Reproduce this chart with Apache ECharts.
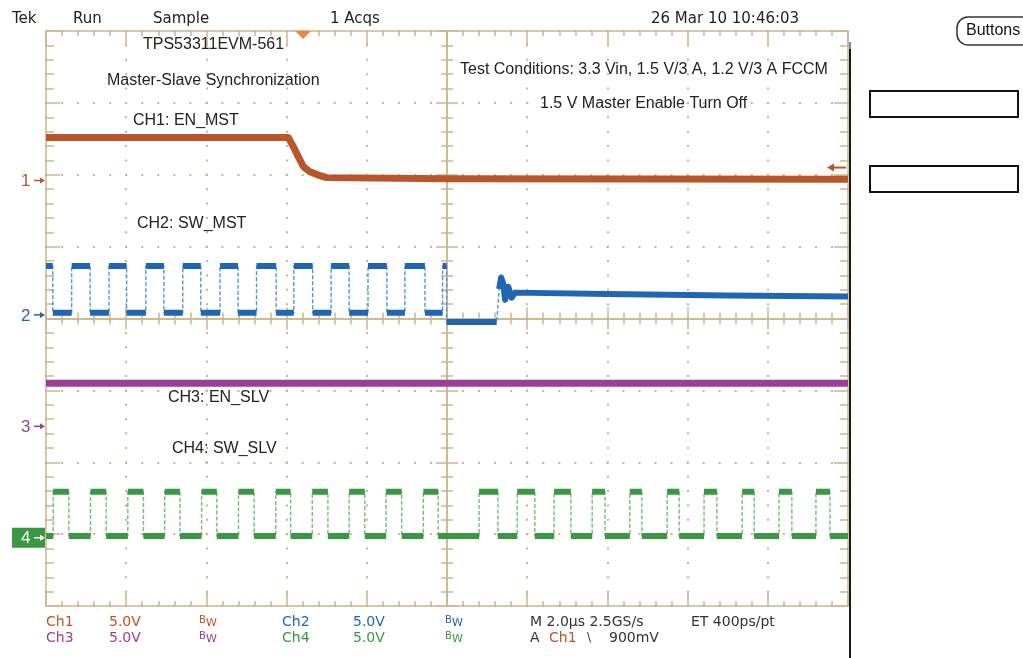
<!DOCTYPE html>
<html><head><meta charset="utf-8">
<script src="https://cdn.jsdelivr.net/npm/echarts@6/dist/echarts.min.js"></script>
<style>html,body{margin:0;padding:0;background:#fff}#c{width:1023px;height:658px}</style>
</head><body><div id="c"></div>
<script>
// ---- values: time in µs from screen centre, volts ----
const voltsPerDiv = [5.0, 5.0, 5.0, 5.0];
const channelOffsetDiv = [1.92, 0.05, -1.50, -3.05];
const ch1Points = [[-10,3.0],[-3.96,3.0],[-3.83,2.35],[-3.71,1.66],[-3.58,0.96],[-3.42,0.61],[-3.21,0.38],[-3.00,0.20],[0,0.12],[10,0.08]];
const ch2Edges = [-9.83,-9.36,-8.90,-8.43,-7.99,-7.51,-7.06,-6.59,-6.14,-5.66,-5.21,-4.75,-4.26,-3.82,-3.35,-2.89,-2.44,-1.97,-1.50,-1.05,-0.55,-0.11];
const ch2High = 3.4, ch2Low = 0.15;
const ch2Tail = [[-0.01,-0.5],[1.24,-0.5],[1.30,1.8],[1.35,2.6],[1.40,2.2],[1.45,1.05],[1.53,1.95],[1.61,1.2],[1.70,1.55],[4,1.45],[7,1.35],[10,1.28]];
const ch3Points = [[-10,3.0],[10,3.0]];
const ch4Edges = [-9.82,-9.43,-8.89,-8.50,-7.96,-7.57,-7.04,-6.66,-6.12,-5.74,-5.20,-4.81,-4.27,-3.90,-3.36,-2.97,-2.44,-2.05,-1.52,-1.13,-0.59,-0.22,0.80,1.27,1.75,2.19,2.67,3.09,3.62,3.94,4.56,4.86,5.49,5.79,6.41,6.73,7.36,7.66,8.28,8.60,9.20,9.55];
const ch4High = 3.2, ch4Low = 0.12;
const triggerTime = -3.59, triggerLevel = 0.9;
const xTicks = {min:-10, max:10, interval:2};
const yTicks = {min:-4, max:4, interval:1};

const COL = ['#B9542B','#2166B3','#9A3F95','#3A9743'];
const COL_THIN = ['#B9542B','#4F96D2','#9A3F95','#6DBE6D'];
const TAN = '#C9B68C';

function buildSteps(edges, startHigh, hi, lo, tStart, tEnd){
  const pts=[]; let s=startHigh;
  pts.push([tStart, s?hi:lo]);
  edges.forEach(t=>{ pts.push([t, s?hi:lo]); s=!s; pts.push([t, s?hi:lo]); });
  pts.push([tEnd, s?hi:lo]);
  return pts;
}
function flats(pts){
  const out=[];
  for(let i=0;i<pts.length-1;i++){
    if(pts[i][1]===pts[i+1][1] && pts[i+1][0]>pts[i][0]){ out.push(pts[i],pts[i+1],[pts[i+1][0],'-']); }
  }
  return out;
}
const toDiv = (pts,ch)=>pts.map(p=>[p[0], p[1]==='-'?'-':channelOffsetDiv[ch]+p[1]/voltsPerDiv[ch]]);

const ch2Points = buildSteps(ch2Edges,true,ch2High,ch2Low,-10,ch2Tail[0][0]).concat(ch2Tail);
const ch2Thick = flats(ch2Points).concat(ch2Tail.slice(2));
const ch4Points = buildSteps(ch4Edges,false,ch4High,ch4Low,-10,10);
const ch4Thick = flats(ch4Points);

const tick = (len,w)=>({show:true,length:len,lineStyle:{color:TAN,width:w||1.5}});
function frameAxis(dim,pos,major,minor,split){
  const t = dim==='x'?xTicks:yTicks;
  return {type:'value',min:t.min,max:t.max,interval:t.interval,position:pos,
    axisLine:{show:true,onZero:false,lineStyle:{color:TAN,width:1.5}},
    axisTick:Object.assign(tick(major),{inside:true}),
    minorTick:Object.assign(tick(minor),{splitNumber:5}),
    axisLabel:{show:false},
    splitLine: split?{show:true,lineStyle:{color:TAN,width:2,type:dim==='x'?[2,12.375]:[2,14.04],dashOffset:1}}:{show:false}
  };
}
function centerAxis(dim,inside){
  const t = dim==='x'?xTicks:yTicks;
  return {type:'value',min:t.min,max:t.max,interval:t.interval,
    axisLine:{show:true,onZero:true,onZeroAxisIndex:0,lineStyle:{color:TAN,width:1.5}},
    axisTick:Object.assign(tick(11),{inside:inside}),
    minorTick:Object.assign(tick(6),{splitNumber:5}),
    axisLabel:{show:false},splitLine:{show:false}};
}
function line(data,ch,w,thin,z){
  return {type:'line',xAxisIndex:0,yAxisIndex:0,data:data,symbol:'none',showSymbol:false,silent:true,animation:false,z:z||3,
    lineStyle:{color:thin?COL_THIN[ch]:COL[ch],width:w,type:thin?[4,2]:'solid',cap:'butt',join:'round'}};
}

const chart = echarts.init(document.getElementById('c'),null,{renderer:'canvas'});
chart.setOption({
  animation:false,
  backgroundColor:'#fff',
  grid:{left:46,top:31,width:802,height:575,containLabel:false},
  xAxis:[frameAxis('x','bottom',14,5,true),frameAxis('x','top',14,5,false),centerAxis('x',true),centerAxis('x',false)],
  yAxis:[frameAxis('y','left',14,8,true),frameAxis('y','right',14,8,false),centerAxis('y',true),centerAxis('y',false)],
  series:[
    line(toDiv(ch1Points,0),0,7,false,4),
    line(toDiv(ch2Points,1),1,1.4,true,3),
    line(toDiv(ch2Thick,1),1,6,false,4),
    line(toDiv(ch3Points,2),2,7,false,4),
    line(toDiv(ch4Points,3),3,1.4,true,3),
    line(toDiv(ch4Thick,3),3,6,false,4)
  ]
});

const P=(t,v,ch)=>chart.convertToPixel({xAxisIndex:0,yAxisIndex:0},[t,channelOffsetDiv[ch]+v/voltsPerDiv[ch]]);
const SANS='"Liberation Sans", Arial, sans-serif';
const TEK='"DejaVu Sans", sans-serif';
function txt(x,y,s,fill,font){return {type:'text',x:x,y:y,silent:true,z:10,style:{text:s,fill:fill||'#222',font:font||('16px '+SANS),align:'left',verticalAlign:'middle',textAlign:'left',textVerticalAlign:'middle'}};}
const g=[];
// top status bar
[['Tek',12],['Run',73],['Sample',153],['1 Acqs',330],['26 Mar 10 10:46:03',651]].forEach(a=>g.push(txt(a[1],19,a[0],'#222','15px '+TEK)));
// annotations
g.push(txt(143,45,'TPS53311EVM-561'));
g.push(txt(107,81,'Master-Slave Synchronization'));
g.push(txt(133,121,'CH1: EN_MST'));
g.push(txt(460,70,'Test Conditions: 3.3 Vin, 1.5 V/3 A, 1.2 V/3 A FCCM'));
g.push(txt(540,104,'1.5 V Master Enable Turn Off'));
g.push(txt(137,224,'CH2: SW_MST'));
g.push(txt(168,398,'CH3: EN_SLV'));
g.push(txt(172,449,'CH4: SW_SLV'));
// bottom status
const BF='14px '+TEK;
function bw(x,y,c){g.push(txt(x,y-2,'B',c,'10px '+TEK));g.push(txt(x+7,y+1,'W',c,'11px '+TEK));}
g.push(txt(46,622,'Ch1',COL[0],BF));g.push(txt(109,622,'5.0V',COL[0],BF));bw(199,622,COL[0]);
g.push(txt(282,622,'Ch2',COL[1],BF));g.push(txt(353,622,'5.0V',COL[1],BF));bw(445,622,COL[1]);
g.push(txt(530,622,'M 2.0µs 2.5GS/s','#333',BF));g.push(txt(691,622,'ET 400ps/pt','#333',BF));
g.push(txt(46,638,'Ch3',COL[2],BF));g.push(txt(109,638,'5.0V',COL[2],BF));bw(199,638,COL[2]);
g.push(txt(282,638,'Ch4',COL[3],BF));g.push(txt(353,638,'5.0V',COL[3],BF));bw(445,638,COL[3]);
g.push(txt(530,638,'A','#333',BF));g.push(txt(549,638,'Ch1',COL[0],BF));g.push(txt(587,638,'\\','#333','12px '+TEK));g.push(txt(609,638,'900mV','#333',BF));
// channel ground markers
for(let ch=0;ch<4;ch++){
  const y=P(-10,0,ch)[1];
  const c = ch===3?'#fff':COL[ch];
  if(ch===3) g.push({type:'rect',shape:{x:12,y:y-10,width:33,height:20},style:{fill:COL[3]},z:9,silent:true});
  g.push(txt(21,y+1,String(ch+1),c,'17px '+SANS));
  g.push({type:'line',shape:{x1:34,y1:y,x2:41,y2:y},style:{stroke:c,lineWidth:1.5},z:10,silent:true});
  g.push({type:'polygon',shape:{points:[[45,y],[40,y-3],[40,y+3]]},style:{fill:c},z:10,silent:true});
}
// trigger position and level
const tp=P(triggerTime,0,0)[0];
g.push({type:'polygon',shape:{points:[[tp-8,31],[tp+8,31],[tp,39]]},style:{fill:'#F5823F'},z:10,silent:true});
const tl=P(10,triggerLevel,0)[1];
g.push({type:'line',shape:{x1:832,y1:tl,x2:846,y2:tl},style:{stroke:COL[0],lineWidth:2},z:10,silent:true});
g.push({type:'polygon',shape:{points:[[827,tl],[834,tl-4],[834,tl+4]]},style:{fill:COL[0]},z:10,silent:true});
// right side panel
g.push({type:'line',shape:{x1:850,y1:42,x2:850,y2:658},style:{stroke:'#1a1a1a',lineWidth:2},z:10,silent:true});
g.push({type:'rect',shape:{x:849,y:42,width:2,height:7},style:{fill:'#5A8FCC'},z:11,silent:true});
g.push({type:'rect',shape:{x:957,y:17,width:80,height:28,r:11},style:{fill:'#fff',stroke:'#333',lineWidth:1.5},z:10,silent:true});
g.push(txt(966,31,'Buttons','#111','16px '+SANS));
g.push({type:'rect',shape:{x:870,y:91,width:148,height:26},style:{fill:'#fff',stroke:'#111',lineWidth:2},z:10,silent:true});
g.push({type:'rect',shape:{x:870,y:166,width:148,height:26},style:{fill:'#fff',stroke:'#111',lineWidth:2},z:10,silent:true});
chart.setOption({graphic:g});
</script></body></html>
